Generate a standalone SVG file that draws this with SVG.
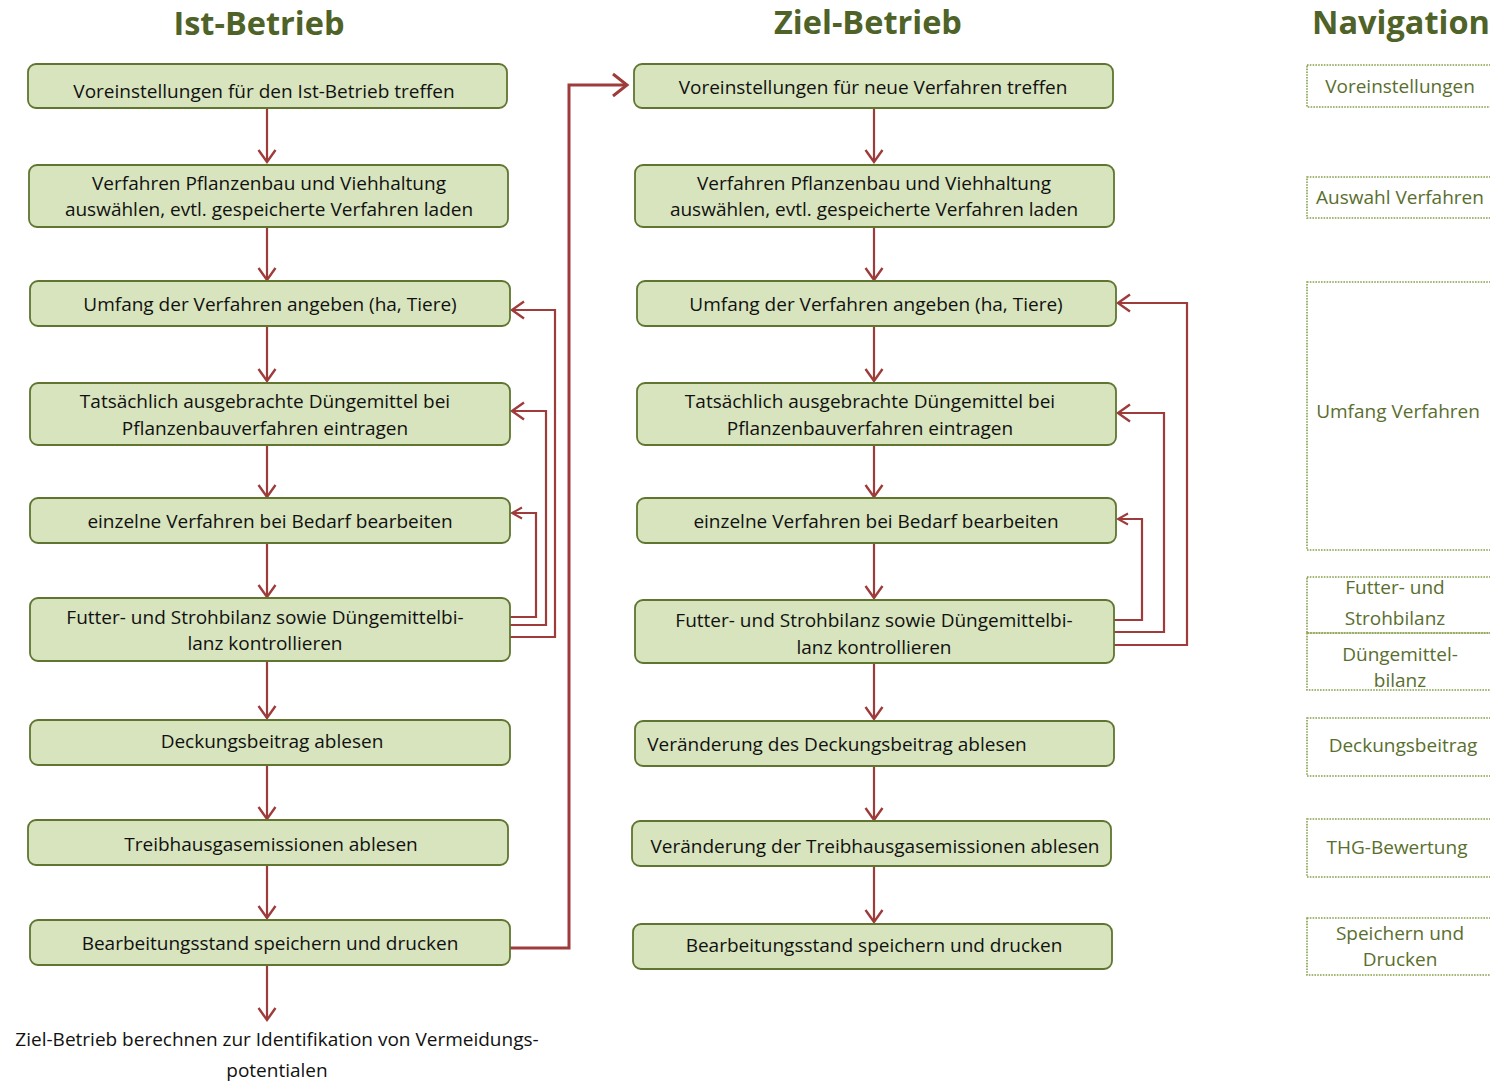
<svg xmlns="http://www.w3.org/2000/svg" width="1490" height="1081" viewBox="0 0 1490 1081">
<style>
.title{font-family:"Open Sans","Noto Sans",sans-serif;font-weight:bold;font-size:32.5px;fill:#4f6228;text-anchor:middle}
.box{fill:#d7e4bd;stroke:#5f7530;stroke-width:1.8}
.t{font-family:"Open Sans","Noto Sans",sans-serif;font-size:19px;fill:#111;text-anchor:middle}
.nav{fill:none;stroke:#86a04a;stroke-width:1.6;stroke-dasharray:1.6 1.2}
.nt{font-family:"Open Sans","Noto Sans",sans-serif;font-size:19px;fill:#5a6e2e;text-anchor:middle}
.c{fill:none;stroke:#9e3b3b;stroke-width:2.2}
.cb{fill:none;stroke:#9e3b3b;stroke-width:3}
</style>
<defs>
<marker id="arr" markerUnits="userSpaceOnUse" markerWidth="30" markerHeight="30" refX="0" refY="0" viewBox="-15 -15 30 30" orient="auto" overflow="visible">
<path d="M-12,-8.5 L0,0 L-12,8.5" fill="none" stroke="#9e3b3b" stroke-width="2.4"/>
</marker>
<marker id="arrS" markerUnits="userSpaceOnUse" markerWidth="30" markerHeight="30" refX="0" refY="0" viewBox="-15 -15 30 30" orient="auto" overflow="visible">
<path d="M-10,-5.5 L0,0 L-10,5.5" fill="none" stroke="#9e3b3b" stroke-width="2"/>
</marker>
<marker id="arrL" markerUnits="userSpaceOnUse" markerWidth="40" markerHeight="40" refX="0" refY="0" viewBox="-20 -20 40 40" orient="auto" overflow="visible">
<path d="M-14,-11 L0,0 L-14,11" fill="none" stroke="#9e3b3b" stroke-width="3"/>
</marker>
</defs>
<rect width="1490" height="1081" fill="#fff"/>
<g id="titles">
<text class="title" x="259" y="35">Ist-Betrieb</text>
<text class="title" x="868" y="34">Ziel-Betrieb</text>
<text class="title" x="1401" y="34">Navigation</text>
</g>
<g id="connectors">
<line class="c" x1="267" y1="108" x2="267" y2="162" marker-end="url(#arr)"/>
<line class="c" x1="267" y1="227" x2="267" y2="280" marker-end="url(#arr)"/>
<line class="c" x1="267" y1="326" x2="267" y2="381" marker-end="url(#arr)"/>
<line class="c" x1="267" y1="445" x2="267" y2="497" marker-end="url(#arr)"/>
<line class="c" x1="267" y1="543" x2="267" y2="597" marker-end="url(#arr)"/>
<line class="c" x1="267" y1="661" x2="267" y2="718" marker-end="url(#arr)"/>
<line class="c" x1="267" y1="765" x2="267" y2="819" marker-end="url(#arr)"/>
<line class="c" x1="267" y1="865" x2="267" y2="918" marker-end="url(#arr)"/>
<line class="c" x1="267" y1="965" x2="267" y2="1020" marker-end="url(#arr)"/>
<polyline class="c" points="510,617 536,617 536,513 512,513" marker-end="url(#arrS)"/>
<polyline class="c" points="510,625 546,625 546,411 512,411" marker-end="url(#arr)"/>
<polyline class="c" points="510,637 555,637 555,310 512,310" marker-end="url(#arr)"/>
<polyline class="cb" points="510,948 569,948 569,85 627,85" marker-end="url(#arrL)"/>
<line class="c" x1="874" y1="108" x2="874" y2="162" marker-end="url(#arr)"/>
<line class="c" x1="874" y1="227" x2="874" y2="280" marker-end="url(#arr)"/>
<line class="c" x1="874" y1="326" x2="874" y2="381" marker-end="url(#arr)"/>
<line class="c" x1="874" y1="445" x2="874" y2="497" marker-end="url(#arr)"/>
<line class="c" x1="874" y1="543" x2="874" y2="598" marker-end="url(#arr)"/>
<line class="c" x1="874" y1="663" x2="874" y2="719" marker-end="url(#arr)"/>
<line class="c" x1="874" y1="766" x2="874" y2="820" marker-end="url(#arr)"/>
<line class="c" x1="874" y1="866" x2="874" y2="922" marker-end="url(#arr)"/>
<polyline class="c" points="1114,620 1142,620 1142,519 1118,519" marker-end="url(#arrS)"/>
<polyline class="c" points="1114,632 1164,632 1164,413 1118,413" marker-end="url(#arr)"/>
<polyline class="c" points="1114,645 1187,645 1187,303 1118,303" marker-end="url(#arr)"/>
</g>
<g id="ist1"><rect class="box" x="28" y="64" width="479" height="44" rx="8"/><text class="t" x="264" y="98">Voreinstellungen für den Ist-Betrieb treffen</text></g>
<g id="ist2"><rect class="box" x="29" y="165" width="479" height="62" rx="8"/><text class="t" x="269" y="190">Verfahren Pflanzenbau und Viehhaltung</text><text class="t" x="269" y="216">auswählen, evtl. gespeicherte Verfahren laden</text></g>
<g id="ist3"><rect class="box" x="30" y="281" width="480" height="45" rx="8"/><text class="t" x="270" y="311">Umfang der Verfahren angeben (ha, Tiere)</text></g>
<g id="ist4"><rect class="box" x="30" y="383" width="480" height="62" rx="8"/><text class="t" x="265" y="408">Tatsächlich ausgebrachte Düngemittel bei</text><text class="t" x="265" y="435">Pflanzenbauverfahren eintragen</text></g>
<g id="ist5"><rect class="box" x="30" y="498" width="480" height="45" rx="8"/><text class="t" x="270" y="528">einzelne Verfahren bei Bedarf bearbeiten</text></g>
<g id="ist6"><rect class="box" x="30" y="598" width="480" height="63" rx="8"/><text class="t" x="265" y="624">Futter- und Strohbilanz sowie Düngemittelbi-</text><text class="t" x="265" y="650">lanz kontrollieren</text></g>
<g id="ist7"><rect class="box" x="30" y="720" width="480" height="45" rx="8"/><text class="t" x="272" y="748">Deckungsbeitrag ablesen</text></g>
<g id="ist8"><rect class="box" x="28" y="820" width="480" height="45" rx="8"/><text class="t" x="271" y="851">Treibhausgasemissionen ablesen</text></g>
<g id="ist9"><rect class="box" x="30" y="920" width="480" height="45" rx="8"/><text class="t" x="270" y="950">Bearbeitungsstand speichern und drucken</text></g>
<g id="ziel-note"><text class="t" x="277" y="1046">Ziel-Betrieb berechnen zur Identifikation von Vermeidungs-</text><text class="t" x="277" y="1077">potentialen</text></g>
<g id="ziel1"><rect class="box" x="634" y="64" width="479" height="44" rx="8"/><text class="t" x="873" y="94">Voreinstellungen für neue Verfahren treffen</text></g>
<g id="ziel2"><rect class="box" x="635" y="165" width="479" height="62" rx="8"/><text class="t" x="874" y="190">Verfahren Pflanzenbau und Viehhaltung</text><text class="t" x="874" y="216">auswählen, evtl. gespeicherte Verfahren laden</text></g>
<g id="ziel3"><rect class="box" x="637" y="281" width="479" height="45" rx="8"/><text class="t" x="876" y="311">Umfang der Verfahren angeben (ha, Tiere)</text></g>
<g id="ziel4"><rect class="box" x="637" y="383" width="479" height="62" rx="8"/><text class="t" x="870" y="408">Tatsächlich ausgebrachte Düngemittel bei</text><text class="t" x="870" y="435">Pflanzenbauverfahren eintragen</text></g>
<g id="ziel5"><rect class="box" x="637" y="498" width="479" height="45" rx="8"/><text class="t" x="876" y="528">einzelne Verfahren bei Bedarf bearbeiten</text></g>
<g id="ziel6"><rect class="box" x="635" y="600" width="479" height="63" rx="8"/><text class="t" x="874" y="627">Futter- und Strohbilanz sowie Düngemittelbi-</text><text class="t" x="874" y="654">lanz kontrollieren</text></g>
<g id="ziel7"><rect class="box" x="635" y="721" width="479" height="45" rx="8"/><text class="t" x="837" y="751">Veränderung des Deckungsbeitrag ablesen</text></g>
<g id="ziel8"><rect class="box" x="632" y="821" width="479" height="45" rx="8"/><text class="t" x="875" y="853">Veränderung der Treibhausgasemissionen ablesen</text></g>
<g id="ziel9"><rect class="box" x="633" y="924" width="479" height="45" rx="8"/><text class="t" x="874" y="952">Bearbeitungsstand speichern und drucken</text></g>
<g id="nav1"><rect class="nav" x="1307" y="65" width="200" height="42"/><text class="nt" x="1400" y="93">Voreinstellungen</text></g>
<g id="nav2"><rect class="nav" x="1307" y="177" width="200" height="41"/><text class="nt" x="1400" y="204">Auswahl Verfahren</text></g>
<g id="nav3"><rect class="nav" x="1307" y="282" width="200" height="268"/><text class="nt" x="1398" y="418">Umfang Verfahren</text></g>
<g id="nav4"><rect class="nav" x="1307" y="577" width="200" height="56"/><text class="nt" x="1395" y="594">Futter- und</text><text class="nt" x="1395" y="625">Strohbilanz</text></g>
<g id="nav5"><rect class="nav" x="1307" y="633" width="200" height="57"/><text class="nt" x="1400" y="661">Düngemittel-</text><text class="nt" x="1400" y="687">bilanz</text></g>
<g id="nav6"><rect class="nav" x="1307" y="718" width="200" height="58"/><text class="nt" x="1403" y="752">Deckungsbeitrag</text></g>
<g id="nav7"><rect class="nav" x="1307" y="819" width="200" height="58"/><text class="nt" x="1397" y="854">THG-Bewertung</text></g>
<g id="nav8"><rect class="nav" x="1307" y="918" width="200" height="57"/><text class="nt" x="1400" y="940">Speichern und</text><text class="nt" x="1400" y="966">Drucken</text></g>
</svg>
